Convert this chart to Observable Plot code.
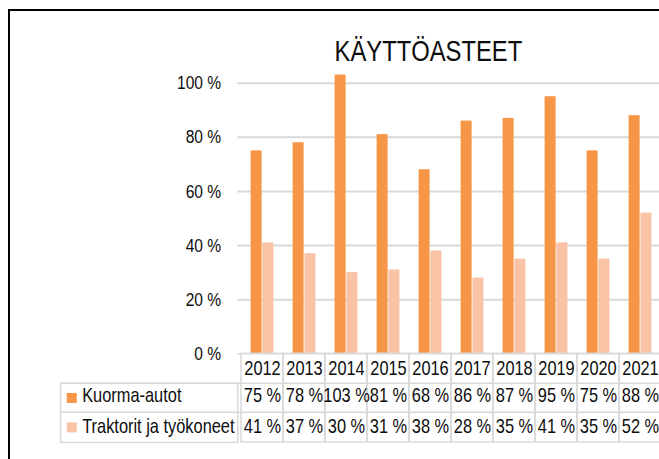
<!DOCTYPE html>
<html>
<head>
<meta charset="utf-8">
<script src="https://cdn.jsdelivr.net/npm/d3@7"></script>
<script src="https://cdn.jsdelivr.net/npm/@observablehq/plot@0.6"></script>
<style>
  html, body { margin: 0; padding: 0; background: #fff; overflow: hidden; width: 659px; height: 459px; }
  #frame { position: absolute; left: 8px; top: 9px; width: 651px; height: 450px;
           border-left: 2px solid #000; border-top: 2px solid #000; box-sizing: content-box; }
  #title { margin: 0 0 0 188px; width: 461px; padding-top: 26px; height: 29px; line-height: 29px;
           font-family: "Liberation Sans", Arial, sans-serif;
           font-size: 29px; font-weight: normal; text-align: center; color: #0d0d0d; white-space: nowrap; }
  #title span { display: inline-block; transform: scaleX(0.82); transform-origin: 50% 50%; }
  #chart svg { display: block; overflow: hidden; }
</style>
</head>
<body>
<div id="frame">
  <div id="title"><span>KÄYTTÖASTEET</span></div>
  <div id="chart"></div>
</div>
<script>
const years = ["2012", "2013", "2014", "2015", "2016", "2017", "2018", "2019", "2020", "2021"];
const kuormaAutot = [75, 78, 103, 81, 68, 86, 87, 95, 75, 88];
const traktorit = [41, 37, 30, 31, 38, 28, 35, 41, 35, 52];
const seriesNames = ["Kuorma-autot", "Traktorit ja työkoneet"];
const seriesColors = ["#F79646", "#F9C3A6"];
const yTicks = [0, 20, 40, 60, 80, 100];

const rows = years.map((year, i) => ({year, kuorma: kuormaAutot[i], traktorit: traktorit[i]}));

const font = "'Liberation Sans', Arial, sans-serif";
const gridColor = "#d9d9d9";
const textColor = "#0d0d0d";
const pct = v => `${v} %`;

const chart = Plot.plot({
  width: 649,
  height: 393,
  marginLeft: 227.3,
  marginRight: -5.8,
  marginTop: 16.7,
  marginBottom: 105.7,
  x: {type: "band", domain: years, padding: 0, axis: null},
  y: {domain: [0, 100]},
  style: {fontFamily: font, fontSize: "19px", color: textColor, background: "white", overflow: "hidden"},
  marks: [
    Plot.ruleY(yTicks.slice(1), {stroke: gridColor, strokeWidth: 2}),
    Plot.barY(rows, {x: "year", y: "kuorma", fill: seriesColors[0], insetLeft: 9.6, insetRight: 21.4}),
    Plot.barY(rows, {x: "year", y: "traktorit", fill: seriesColors[1], insetLeft: 21.4, insetRight: 9.6}),
    Plot.axisY({ticks: yTicks, tickFormat: pct, tickSize: 0, tickPadding: 16.6, label: null, fontSize: 19, fill: textColor}),
    // data table
    Plot.ruleY([0], {stroke: gridColor, strokeWidth: 1.5}),
    Plot.cell(years, {x: d => d, fill: "none", stroke: gridColor, strokeWidth: 1.5, insetTop: 270.6, insetBottom: -88.6}),
    Plot.ruleY([0], {dy: 29.5, insetLeft: -177.3, stroke: gridColor, strokeWidth: 1.5}),
    Plot.ruleY([0], {dy: 58.5, insetLeft: -177.3, stroke: gridColor, strokeWidth: 1.5}),
    Plot.frame({insetLeft: -177.3, insetRight: 427.5, insetTop: 300.1, insetBottom: -88.6, stroke: gridColor, strokeWidth: 1.5}),
    Plot.text(rows, {x: "year", text: "year", frameAnchor: "bottom", lineAnchor: "middle", dy: 14.5, fontSize: 20, fill: textColor}),
    Plot.text(rows, {x: "year", text: d => pct(d.kuorma), frameAnchor: "bottom", lineAnchor: "middle", dy: 42.2, fontSize: 20, fill: textColor}),
    Plot.text(rows, {x: "year", text: d => pct(d.traktorit), frameAnchor: "bottom", lineAnchor: "middle", dy: 72.8, fontSize: 20, fill: textColor}),
    // legend keys in the table
    Plot.dot([seriesNames[0]], {frameAnchor: "bottom-left", dx: -166, dy: 44.2, symbol: "square", r: 5.64, fill: seriesColors[0], stroke: null}),
    Plot.dot([seriesNames[1]], {frameAnchor: "bottom-left", dx: -166, dy: 73.6, symbol: "square", r: 5.64, fill: seriesColors[1], stroke: null}),
    Plot.text([seriesNames[0]], {text: d => d, frameAnchor: "bottom-left", lineAnchor: "middle", textAnchor: "start", dx: -155.6, dy: 42.2, fontSize: 20, fill: textColor}),
    Plot.text([seriesNames[1]], {text: d => d, frameAnchor: "bottom-left", lineAnchor: "middle", textAnchor: "start", dx: -155.6, dy: 72.8, fontSize: 20, fill: textColor})
  ]
});

// The reference uses a narrow face; condense each text horizontally about its anchor.
chart.querySelectorAll("text").forEach(t => {
  const x = +t.getAttribute("x") || 0;
  const y = +t.getAttribute("y") || 0;
  const tr = t.getAttribute("transform") || "";
  t.setAttribute("transform", `${tr} translate(${x},${y}) scale(0.82,1) translate(${-x},${-y})`.trim());
});

document.getElementById("chart").appendChild(chart);
</script>
</body>
</html>
